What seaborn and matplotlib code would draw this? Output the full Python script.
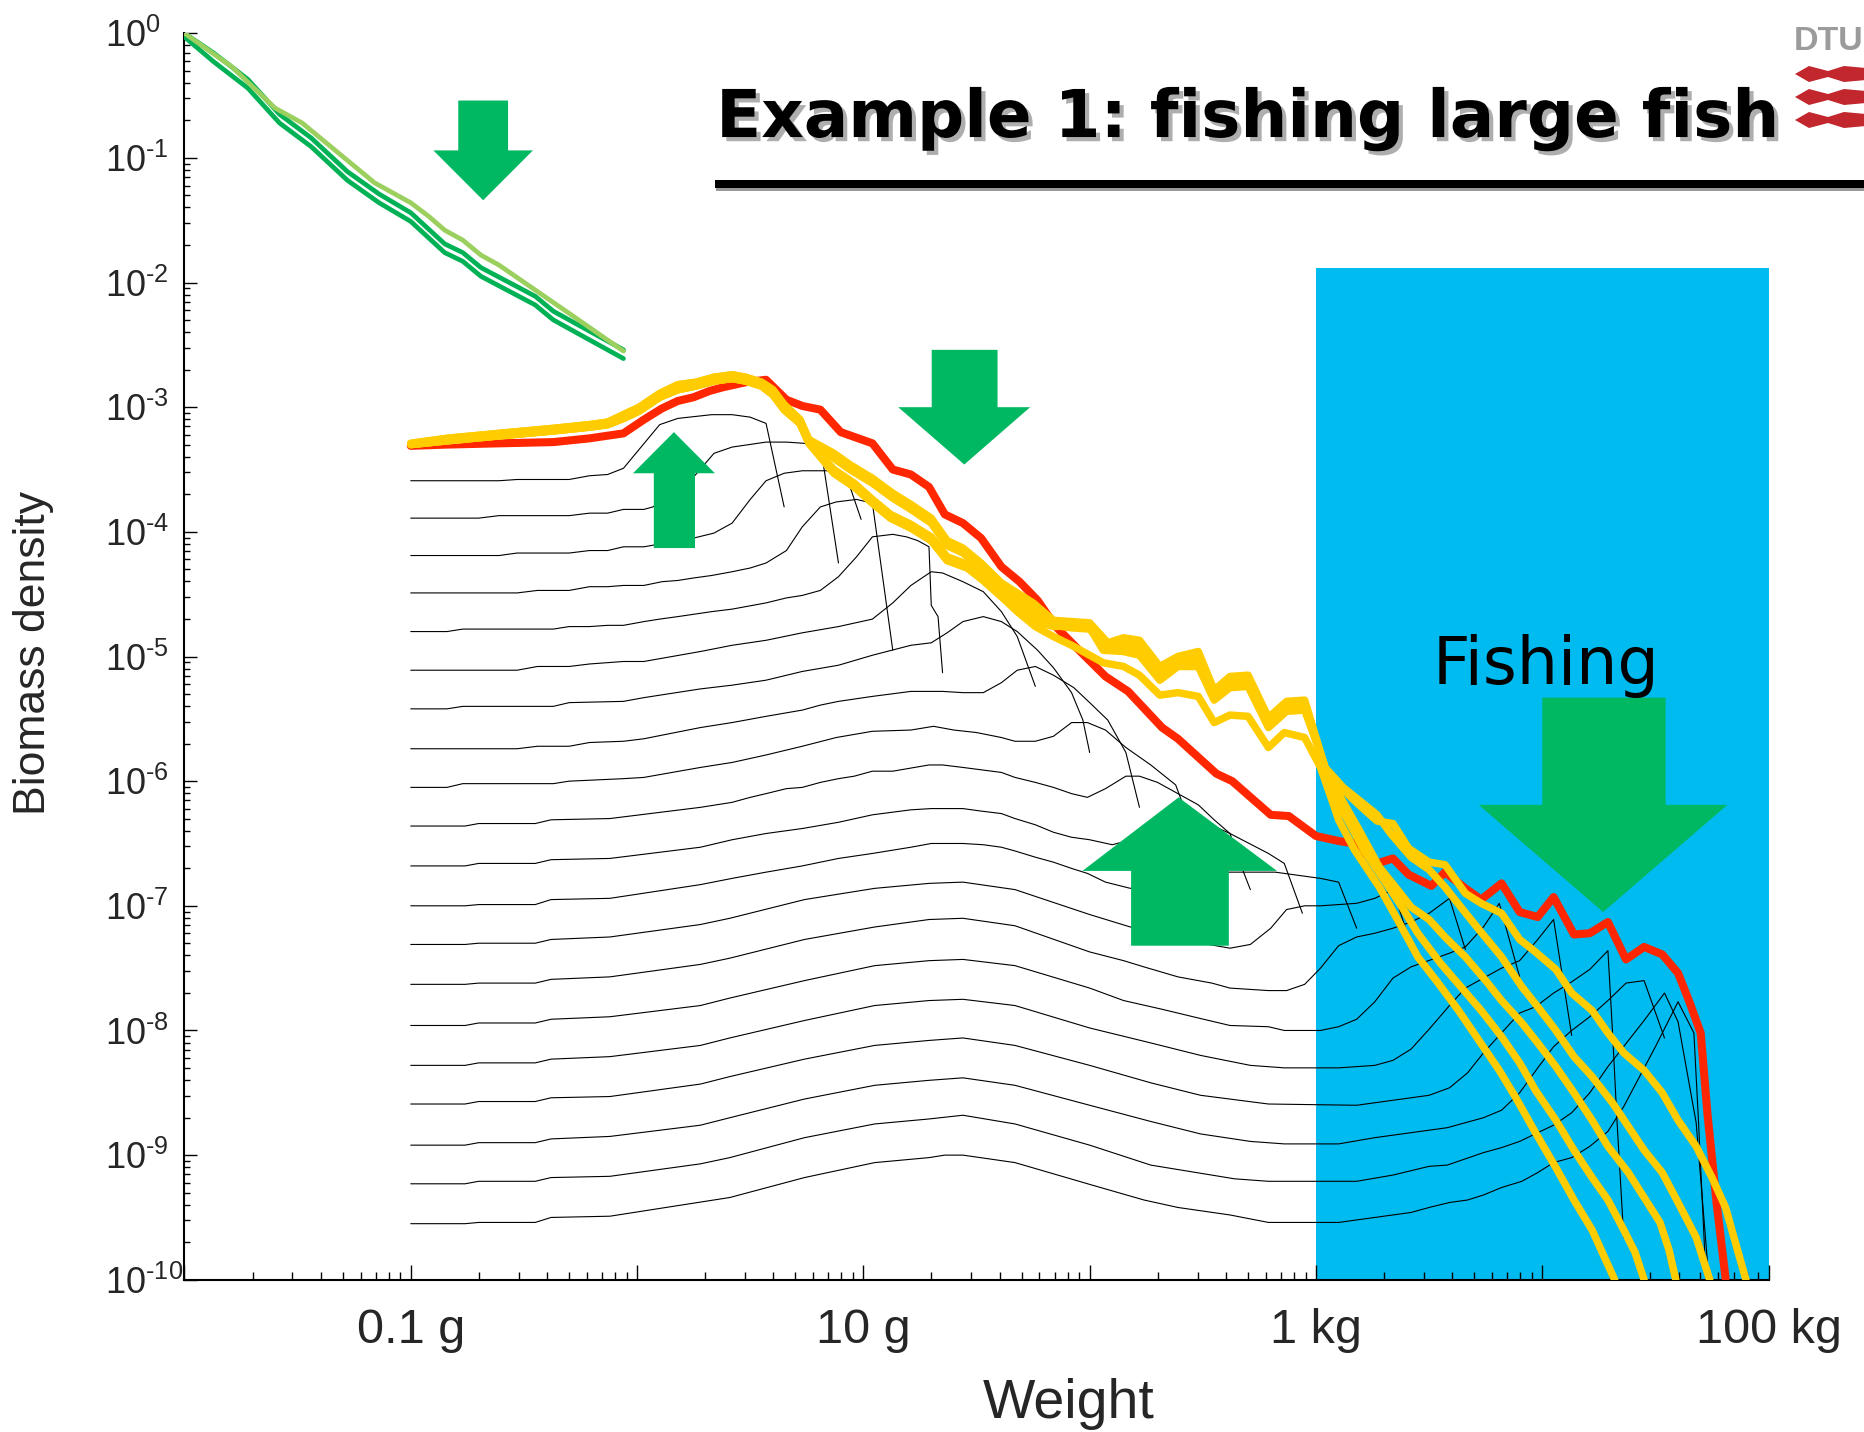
import numpy as np
import matplotlib
matplotlib.use("Agg")
import matplotlib.pyplot as plt
import seaborn as sns
from matplotlib.patches import Polygon, Rectangle
from matplotlib import patheffects as pe
from matplotlib.ticker import LogLocator, FuncFormatter, NullFormatter

# ---------------------------------------------------------------------------
# Size spectra, stored as (log10 weight [g], log10 biomass density) pairs
# ---------------------------------------------------------------------------

# resource spectrum (three runs)
resource_light = [(-2.00, 0.00), (-1.79, -0.27), (-1.60, -0.60), (-1.48, -0.72), (-1.32, -0.96),
                  (-1.16, -1.20), (-1.00, -1.36), (-0.92, -1.47), (-0.85, -1.58), (-0.77, -1.66),
                  (-0.69, -1.78), (-0.61, -1.86), (-0.45, -2.06), (-0.29, -2.26), (-0.06, -2.55)]
resource_mid = [(-2.00, 0.00), (-1.87, -0.16), (-1.72, -0.37), (-1.58, -0.65), (-1.44, -0.84),
                (-1.28, -1.11), (-1.14, -1.29), (-1.00, -1.44), (-0.85, -1.69), (-0.77, -1.76),
                (-0.69, -1.88), (-0.45, -2.11), (-0.37, -2.23), (-0.06, -2.54)]
resource_low = [(-2.00, -0.03), (-1.87, -0.23), (-1.72, -0.44), (-1.58, -0.72), (-1.44, -0.91),
                (-1.28, -1.18), (-1.14, -1.36), (-1.00, -1.51), (-0.85, -1.76), (-0.77, -1.83),
                (-0.69, -1.95), (-0.45, -2.18), (-0.37, -2.30), (-0.06, -2.61)]

# community spectrum without fishing
unfished_w = [-1.00, -0.84, -0.61, -0.37, -0.21, -0.06, 0.03, 0.11, 0.18, 0.25, 0.32, 0.38, 0.48,
              0.57, 0.66, 0.73, 0.81, 0.90, 1.04, 1.13, 1.21, 1.29, 1.36, 1.44, 1.52, 1.61, 1.69,
              1.77, 1.85, 1.97, 2.07, 2.17, 2.32, 2.39, 2.56, 2.63, 2.80, 2.88, 3.00, 3.10, 3.17,
              3.27, 3.34, 3.41, 3.51, 3.57, 3.66, 3.73, 3.82, 3.90, 3.98, 4.05, 4.14, 4.21, 4.29,
              4.37, 4.45, 4.53, 4.60, 4.65, 4.70, 4.73, 4.77, 4.81]
unfished_b = [-3.31, -3.30, -3.29, -3.28, -3.25, -3.21, -3.10, -3.01, -2.95, -2.92, -2.87, -2.84,
              -2.80, -2.78, -2.94, -2.99, -3.02, -3.20, -3.29, -3.50, -3.54, -3.64, -3.86, -3.93,
              -4.05, -4.28, -4.40, -4.55, -4.76, -4.98, -5.16, -5.28, -5.57, -5.66, -5.94, -6.00,
              -6.27, -6.28, -6.44, -6.48, -6.50, -6.66, -6.62, -6.75, -6.84, -6.73, -6.86, -6.95,
              -6.82, -7.05, -7.09, -6.93, -7.23, -7.22, -7.13, -7.43, -7.33, -7.39, -7.54, -7.77,
              -8.02, -8.67, -9.38, -9.99]

# community spectra with fishing: small-size part, middle part, large-size tail
fished_head = [(-1.00, -3.29), (-0.84, -3.25), (-0.61, -3.21), (-0.37, -3.17), (-0.21, -3.14),
               (-0.13, -3.12), (-0.06, -3.06), (0.01, -3.00), (0.10, -2.89), (0.18, -2.82),
               (0.26, -2.80), (0.34, -2.76), (0.42, -2.74), (0.48, -2.76), (0.55, -2.80),
               (0.60, -2.86), (0.65, -2.98), (0.72, -3.10)]
fished_head_low = [(-1.00, -3.30), (-0.84, -3.27), (-0.61, -3.23), (-0.37, -3.19), (-0.21, -3.16),
                   (-0.13, -3.14), (-0.06, -3.09), (0.01, -3.03), (0.10, -2.92), (0.18, -2.86),
                   (0.26, -2.83), (0.34, -2.79), (0.42, -2.77), (0.48, -2.79), (0.55, -2.83),
                   (0.60, -2.90), (0.65, -3.02), (0.72, -3.13)]
fished_mid_1 = [(0.76, -3.26), (0.87, -3.37), (0.94, -3.46), (1.04, -3.57), (1.13, -3.69),
                (1.21, -3.78), (1.30, -3.89), (1.37, -4.07), (1.44, -4.13), (1.52, -4.25),
                (1.61, -4.41), (1.68, -4.49), (1.75, -4.57), (1.84, -4.71), (1.92, -4.72),
                (2.00, -4.73), (2.08, -4.89), (2.15, -4.85), (2.22, -4.87), (2.31, -5.08),
                (2.39, -5.00), (2.48, -4.96), (2.55, -5.27), (2.62, -5.16), (2.70, -5.15),
                (2.79, -5.49), (2.87, -5.36), (2.95, -5.35), (2.99, -5.59), (3.04, -5.89)]
fished_mid_2 = [(0.76, -3.28), (0.87, -3.41), (0.94, -3.50), (1.04, -3.61), (1.13, -3.73),
                (1.21, -3.82), (1.30, -3.93), (1.37, -4.11), (1.44, -4.17), (1.52, -4.29),
                (1.61, -4.45), (1.68, -4.53), (1.75, -4.61), (1.84, -4.75), (1.92, -4.77),
                (2.00, -4.78), (2.08, -4.94), (2.15, -4.90), (2.22, -4.92), (2.31, -5.13),
                (2.39, -5.05), (2.48, -5.01), (2.55, -5.32), (2.62, -5.21), (2.70, -5.20),
                (2.79, -5.53), (2.87, -5.41), (2.95, -5.40), (2.99, -5.61), (3.04, -5.89)]
fished_mid_3 = [(0.76, -3.29), (0.87, -3.53), (0.96, -3.64), (1.04, -3.77), (1.12, -3.89),
                (1.21, -3.97), (1.30, -4.07), (1.37, -4.23), (1.46, -4.29), (1.53, -4.39),
                (1.61, -4.52), (1.69, -4.63), (1.77, -4.72), (1.84, -4.76), (1.93, -4.75),
                (2.00, -4.77), (2.06, -4.95), (2.15, -4.96), (2.22, -4.99), (2.31, -5.19),
                (2.39, -5.08), (2.48, -5.08), (2.55, -5.35), (2.62, -5.25), (2.70, -5.24),
                (2.79, -5.57), (2.87, -5.44), (2.95, -5.43), (2.99, -5.63), (3.04, -5.89)]
fished_mid_4 = [(0.76, -3.29), (0.87, -3.50), (0.96, -3.61), (1.04, -3.74), (1.12, -3.86),
                (1.21, -3.94), (1.30, -4.04), (1.37, -4.20), (1.46, -4.26), (1.53, -4.36),
                (1.61, -4.49), (1.69, -4.60), (1.77, -4.69), (1.84, -4.74), (1.93, -4.73),
                (2.00, -4.75), (2.06, -4.91), (2.15, -4.92), (2.22, -4.95), (2.31, -5.15),
                (2.39, -5.05), (2.48, -5.05), (2.55, -5.31), (2.62, -5.21), (2.70, -5.20),
                (2.79, -5.53), (2.87, -5.40), (2.95, -5.39), (2.99, -5.61), (3.04, -5.89)]
fished_mid_5 = [(0.76, -3.29), (0.87, -3.53), (0.96, -3.64), (1.04, -3.77), (1.12, -3.89),
                (1.21, -3.97), (1.30, -4.07), (1.37, -4.23), (1.46, -4.29), (1.53, -4.39),
                (1.61, -4.52), (1.68, -4.64), (1.76, -4.76), (1.84, -4.84), (1.92, -4.91),
                (2.00, -4.99), (2.06, -5.05), (2.15, -5.08), (2.22, -5.15), (2.31, -5.31),
                (2.39, -5.29), (2.48, -5.32), (2.55, -5.53), (2.62, -5.47), (2.70, -5.48),
                (2.79, -5.73), (2.86, -5.61), (2.95, -5.65), (3.02, -5.89)]
fished_tail_1 = [(3.07, -5.98), (3.19, -6.19), (3.27, -6.32), (3.34, -6.34), (3.41, -6.54),
                 (3.50, -6.65), (3.57, -6.67), (3.66, -6.90), (3.73, -6.98), (3.82, -7.06),
                 (3.90, -7.27), (3.97, -7.37), (4.06, -7.51), (4.13, -7.70), (4.22, -7.84),
                 (4.29, -8.02), (4.36, -8.18), (4.45, -8.32), (4.53, -8.50), (4.60, -8.72),
                 (4.68, -8.93), (4.75, -9.18), (4.81, -9.42), (4.85, -9.68), (4.90, -10.00)]
fished_tail_2 = [(3.12, -6.05), (3.27, -6.27), (3.33, -6.42), (3.42, -6.61), (3.50, -6.71),
                 (3.57, -6.85), (3.64, -7.01), (3.72, -7.19), (3.82, -7.41), (3.91, -7.65),
                 (3.98, -7.81), (4.06, -8.00), (4.14, -8.21), (4.22, -8.37), (4.31, -8.58),
                 (4.38, -8.77), (4.45, -8.96), (4.53, -9.14), (4.60, -9.38), (4.68, -9.66),
                 (4.74, -10.00)]
fished_tail_3 = [(3.09, -6.07), (3.19, -6.39), (3.28, -6.69), (3.36, -6.87), (3.42, -7.01),
                 (3.50, -7.11), (3.57, -7.25), (3.66, -7.41), (3.75, -7.60), (3.82, -7.76),
                 (3.91, -7.94), (3.98, -8.10), (4.06, -8.29), (4.14, -8.50), (4.22, -8.72),
                 (4.29, -8.93), (4.38, -9.14), (4.45, -9.34), (4.52, -9.54), (4.56, -9.76),
                 (4.59, -10.00)]
fished_tail_4 = [(3.07, -6.11), (3.14, -6.31), (3.21, -6.55), (3.30, -6.79), (3.38, -7.01),
                 (3.45, -7.22), (3.55, -7.46), (3.64, -7.65), (3.73, -7.84), (3.82, -8.05),
                 (3.90, -8.26), (3.97, -8.48), (4.06, -8.72), (4.14, -8.96), (4.22, -9.18),
                 (4.29, -9.36), (4.36, -9.60), (4.41, -9.78), (4.45, -10.00)]
fished_tail_5 = [(3.07, -6.15), (3.10, -6.31), (3.17, -6.55), (3.28, -6.85), (3.36, -7.11),
                 (3.45, -7.41), (3.54, -7.62), (3.63, -7.84), (3.72, -8.08), (3.81, -8.32),
                 (3.88, -8.53), (3.97, -8.82), (4.06, -9.10), (4.14, -9.36), (4.22, -9.60),
                 (4.28, -9.84), (4.32, -10.00)]

# individual species spectra (small to large asymptotic size)
sp01 = [(-1.00, -3.59), (-0.61, -3.59), (-0.53, -3.58), (-0.30, -3.58), (-0.21, -3.55), (-0.13, -3.54),
        (-0.06, -3.49), (0.10, -3.14), (0.18, -3.09), (0.33, -3.06), (0.42, -3.06), (0.50, -3.08),
        (0.57, -3.13), (0.65, -3.80)]
sp02 = [(-1.00, -3.89), (-0.70, -3.89), (-0.61, -3.87), (-0.30, -3.87), (-0.21, -3.85), (-0.13, -3.85),
        (-0.06, -3.82), (0.03, -3.82), (0.07, -3.80), (0.25, -3.56), (0.34, -3.37), (0.42, -3.32),
        (0.57, -3.28), (0.66, -3.28), (0.74, -3.29), (0.79, -3.33), (0.82, -3.42), (0.89, -4.25)]
sp03 = [(-1.00, -4.19), (-0.61, -4.19), (-0.53, -4.17), (-0.30, -4.17), (-0.21, -4.15), (-0.13, -4.15),
        (-0.06, -4.12), (0.03, -4.12), (0.25, -4.05), (0.34, -4.01), (0.42, -3.93), (0.50, -3.74),
        (0.57, -3.59), (0.65, -3.53), (0.73, -3.51), (0.84, -3.51), (0.93, -3.58), (0.99, -3.90)]
sp04 = [(-1.00, -4.49), (-0.53, -4.49), (-0.44, -4.47), (-0.30, -4.47), (-0.21, -4.44), (-0.13, -4.44),
        (-0.06, -4.43), (0.03, -4.43), (0.11, -4.40), (0.18, -4.39), (0.25, -4.37), (0.33, -4.35),
        (0.42, -4.32), (0.50, -4.29), (0.57, -4.25), (0.66, -4.15), (0.73, -3.96), (0.81, -3.80),
        (0.88, -3.76), (0.97, -3.74), (1.04, -3.77), (1.13, -4.95)]
sp05 = [(-1.00, -4.80), (-0.84, -4.80), (-0.77, -4.78), (-0.37, -4.78), (-0.30, -4.76), (-0.21, -4.76),
        (-0.13, -4.75), (-0.06, -4.75), (0.03, -4.72), (0.10, -4.70), (0.18, -4.68), (0.33, -4.64),
        (0.42, -4.62), (0.57, -4.57), (0.66, -4.53), (0.73, -4.51), (0.81, -4.47), (0.89, -4.36),
        (0.97, -4.20), (1.04, -4.04), (1.13, -4.02), (1.19, -4.04), (1.24, -4.07), (1.29, -4.12),
        (1.30, -4.59), (1.33, -4.68), (1.35, -5.13)]
sp06 = [(-1.00, -5.11), (-0.53, -5.11), (-0.44, -5.08), (-0.30, -5.08), (-0.21, -5.06), (-0.06, -5.04),
        (0.03, -5.04), (0.28, -4.96), (0.42, -4.91), (0.57, -4.87), (0.73, -4.81), (0.89, -4.76),
        (1.04, -4.70), (1.13, -4.57), (1.21, -4.43), (1.30, -4.32), (1.35, -4.33), (1.44, -4.40),
        (1.53, -4.48), (1.61, -4.64), (1.68, -4.84), (1.76, -5.24)]
sp07 = [(-1.00, -5.42), (-0.84, -5.42), (-0.77, -5.40), (-0.37, -5.40), (-0.30, -5.37), (-0.06, -5.36),
        (0.03, -5.33), (0.28, -5.26), (0.42, -5.23), (0.57, -5.19), (0.73, -5.12), (0.89, -5.07),
        (1.04, -4.99), (1.21, -4.91), (1.30, -4.89), (1.37, -4.81), (1.44, -4.72), (1.53, -4.68),
        (1.61, -4.72), (1.68, -4.80), (1.77, -4.95), (1.84, -5.09), (1.92, -5.29), (1.97, -5.51),
        (2.00, -5.77)]
sp08 = [(-1.00, -5.74), (-0.53, -5.74), (-0.44, -5.72), (-0.30, -5.72), (-0.21, -5.69), (-0.06, -5.68),
        (0.03, -5.66), (0.28, -5.57), (0.42, -5.53), (0.57, -5.48), (0.73, -5.43), (0.81, -5.39),
        (0.89, -5.36), (1.04, -5.32), (1.21, -5.28), (1.35, -5.28), (1.44, -5.29), (1.53, -5.29),
        (1.61, -5.21), (1.68, -5.11), (1.76, -5.08), (1.84, -5.15), (1.93, -5.25), (2.00, -5.37),
        (2.08, -5.51), (2.16, -5.77), (2.22, -6.21)]
sp09 = [(-1.00, -6.05), (-0.84, -6.05), (-0.77, -6.02), (-0.37, -6.02), (-0.30, -6.00), (-0.06, -5.98),
        (0.03, -5.97), (0.28, -5.89), (0.42, -5.85), (0.57, -5.79), (0.73, -5.72), (0.88, -5.65),
        (1.04, -5.60), (1.21, -5.59), (1.31, -5.56), (1.40, -5.59), (1.50, -5.61), (1.61, -5.65),
        (1.67, -5.68), (1.76, -5.68), (1.84, -5.64), (1.92, -5.53), (1.99, -5.53), (2.07, -5.59),
        (2.16, -5.73), (2.27, -5.87), (2.38, -6.03), (2.47, -6.47)]
sp10 = [(-1.00, -6.36), (-0.76, -6.36), (-0.70, -6.34), (-0.45, -6.34), (-0.38, -6.31), (-0.12, -6.30),
        (0.28, -6.21), (0.42, -6.17), (0.50, -6.13), (0.57, -6.10), (0.66, -6.06), (0.73, -6.05),
        (0.81, -6.01), (0.89, -5.98), (0.96, -5.96), (1.04, -5.92), (1.13, -5.92), (1.29, -5.87),
        (1.35, -5.87), (1.44, -5.89), (1.61, -5.93), (1.67, -5.97), (1.76, -6.01), (1.84, -6.05),
        (1.92, -6.10), (1.99, -6.13), (2.07, -6.06), (2.16, -5.96), (2.22, -5.96), (2.30, -6.01),
        (2.39, -6.10), (2.48, -6.19), (2.55, -6.31), (2.62, -6.42), (2.68, -6.73), (2.71, -6.87)]
sp11 = [(-1.00, -6.68), (-0.76, -6.68), (-0.70, -6.66), (-0.45, -6.66), (-0.38, -6.63), (-0.12, -6.62),
        (0.28, -6.53), (0.42, -6.47), (0.57, -6.42), (0.73, -6.38), (0.89, -6.33), (1.04, -6.27),
        (1.21, -6.23), (1.30, -6.22), (1.44, -6.22), (1.52, -6.24), (1.61, -6.26), (1.67, -6.30),
        (1.76, -6.35), (1.84, -6.41), (1.92, -6.45), (2.00, -6.47), (2.10, -6.51), (2.27, -6.43),
        (2.40, -6.34), (2.51, -6.33), (2.62, -6.42), (2.79, -6.58), (2.86, -6.66), (2.94, -7.06)]
sp12 = [(-1.00, -7.00), (-0.76, -7.00), (-0.70, -6.99), (-0.45, -6.99), (-0.38, -6.95), (-0.12, -6.94),
        (0.28, -6.83), (0.42, -6.78), (0.57, -6.73), (0.73, -6.68), (0.89, -6.62), (1.04, -6.58),
        (1.21, -6.53), (1.30, -6.50), (1.44, -6.50), (1.53, -6.51), (1.61, -6.53), (1.67, -6.56),
        (1.76, -6.61), (1.84, -6.65), (1.92, -6.70), (1.99, -6.74), (2.07, -6.81), (2.18, -6.86),
        (2.32, -6.82), (2.49, -6.75), (2.62, -6.73), (2.82, -6.73), (3.02, -6.78), (3.10, -6.81),
        (3.18, -7.18)]
sp13 = [(-1.00, -7.31), (-0.76, -7.31), (-0.70, -7.30), (-0.45, -7.30), (-0.38, -7.27), (-0.12, -7.25),
        (0.28, -7.15), (0.41, -7.10), (0.74, -6.95), (1.05, -6.86), (1.29, -6.82), (1.44, -6.81),
        (1.67, -6.87), (2.00, -7.07), (2.18, -7.17), (2.40, -7.27), (2.62, -7.34), (2.71, -7.31),
        (2.80, -7.18), (2.87, -7.03), (2.95, -7.00), (3.02, -7.00), (3.18, -6.98), (3.26, -6.94),
        (3.34, -6.87), (3.41, -7.26)]
sp14 = [(-1.00, -7.63), (-0.76, -7.63), (-0.70, -7.62), (-0.45, -7.62), (-0.38, -7.59), (-0.12, -7.57),
        (0.28, -7.47), (0.41, -7.42), (0.74, -7.27), (1.05, -7.17), (1.29, -7.11), (1.44, -7.10),
        (1.67, -7.16), (2.00, -7.37), (2.15, -7.44), (2.24, -7.49), (2.39, -7.57), (2.54, -7.62),
        (2.62, -7.66), (2.79, -7.68), (2.87, -7.68), (2.95, -7.63), (3.02, -7.50), (3.10, -7.32),
        (3.18, -7.25), (3.26, -7.22), (3.34, -7.18), (3.42, -7.13), (3.50, -7.06), (3.59, -6.94),
        (3.66, -7.35)]
sp15 = [(-1.00, -7.96), (-0.76, -7.96), (-0.70, -7.94), (-0.45, -7.94), (-0.38, -7.91), (-0.12, -7.89),
        (0.28, -7.80), (0.41, -7.74), (0.74, -7.60), (1.05, -7.48), (1.29, -7.44), (1.44, -7.43),
        (1.67, -7.48), (2.00, -7.66), (2.15, -7.76), (2.32, -7.83), (2.48, -7.90), (2.62, -7.96),
        (2.79, -7.97), (2.86, -8.00), (3.02, -8.00), (3.10, -7.97), (3.18, -7.91), (3.26, -7.77),
        (3.34, -7.58), (3.42, -7.49), (3.59, -7.38), (3.66, -7.33), (3.74, -7.17), (3.81, -6.98),
        (3.90, -7.57)]
sp16 = [(-1.00, -8.28), (-0.76, -8.28), (-0.70, -8.26), (-0.45, -8.26), (-0.38, -8.23), (-0.12, -8.21),
        (0.28, -8.12), (0.41, -8.06), (0.74, -7.92), (1.05, -7.80), (1.29, -7.76), (1.44, -7.75),
        (1.67, -7.80), (2.00, -7.98), (2.27, -8.10), (2.49, -8.20), (2.71, -8.28), (2.86, -8.30),
        (3.10, -8.30), (3.26, -8.28), (3.34, -8.24), (3.42, -8.15), (3.50, -7.99), (3.59, -7.80),
        (3.66, -7.66), (3.74, -7.58), (3.82, -7.50), (3.90, -7.44), (3.98, -7.27), (4.05, -7.11),
        (4.13, -8.04)]
sp17 = [(-1.00, -8.59), (-0.76, -8.59), (-0.70, -8.57), (-0.45, -8.57), (-0.38, -8.54), (-0.12, -8.53),
        (0.28, -8.43), (0.41, -8.37), (0.74, -8.23), (1.05, -8.12), (1.29, -8.08), (1.44, -8.06),
        (1.67, -8.12), (2.00, -8.28), (2.27, -8.42), (2.49, -8.52), (2.79, -8.59), (3.18, -8.60),
        (3.34, -8.56), (3.50, -8.52), (3.59, -8.46), (3.67, -8.34), (3.74, -8.18), (3.82, -8.02),
        (3.90, -7.86), (3.97, -7.81), (4.05, -7.70), (4.13, -7.61), (4.21, -7.51), (4.29, -7.36),
        (4.31, -8.00), (4.33, -8.72), (4.36, -9.66)]
sp18 = [(-1.00, -8.92), (-0.76, -8.92), (-0.70, -8.90), (-0.45, -8.90), (-0.38, -8.87), (-0.12, -8.85),
        (0.28, -8.76), (0.41, -8.70), (0.74, -8.55), (1.05, -8.44), (1.29, -8.40), (1.44, -8.38),
        (1.67, -8.44), (2.00, -8.60), (2.27, -8.73), (2.49, -8.83), (2.71, -8.89), (2.86, -8.91),
        (3.10, -8.91), (3.26, -8.86), (3.42, -8.82), (3.58, -8.78), (3.74, -8.70), (3.82, -8.64),
        (3.90, -8.50), (3.98, -8.30), (4.05, -8.13), (4.13, -8.00), (4.21, -7.89), (4.29, -7.76),
        (4.37, -7.62), (4.45, -7.60), (4.54, -8.06)]
sp19 = [(-1.00, -9.23), (-0.76, -9.23), (-0.70, -9.21), (-0.45, -9.21), (-0.38, -9.18), (-0.12, -9.17),
        (0.28, -9.07), (0.41, -9.02), (0.74, -8.86), (1.05, -8.75), (1.29, -8.71), (1.44, -8.68),
        (1.67, -8.75), (2.00, -8.92), (2.27, -9.08), (2.64, -9.19), (2.79, -9.21), (3.18, -9.21),
        (3.34, -9.16), (3.50, -9.09), (3.58, -9.08), (3.74, -8.98), (3.82, -8.94), (3.90, -8.89),
        (3.98, -8.82), (4.05, -8.76), (4.13, -8.66), (4.21, -8.50), (4.29, -8.29), (4.45, -7.92),
        (4.54, -7.70), (4.60, -7.93), (4.68, -8.74), (4.73, -9.86)]
sp20 = [(-1.00, -9.55), (-0.76, -9.55), (-0.70, -9.54), (-0.45, -9.54), (-0.38, -9.50), (-0.12, -9.49),
        (0.41, -9.34), (0.74, -9.18), (1.05, -9.06), (1.29, -9.02), (1.36, -9.00), (1.44, -9.00),
        (1.67, -9.06), (2.01, -9.24), (2.24, -9.36), (2.39, -9.42), (2.62, -9.48), (2.79, -9.54),
        (3.10, -9.54), (3.26, -9.50), (3.42, -9.46), (3.50, -9.42), (3.59, -9.38), (3.67, -9.36),
        (3.74, -9.32), (3.82, -9.26), (3.91, -9.21), (3.98, -9.14), (4.05, -9.06), (4.13, -9.02),
        (4.21, -8.93), (4.29, -8.81), (4.36, -8.61), (4.43, -8.37), (4.50, -8.13), (4.60, -7.77),
        (4.67, -8.02), (4.69, -8.72), (4.72, -9.86)]

# axis tick labels
x_tick_values = [0.1, 10, 1000, 100000]
x_tick_labels = ["0.1 g", "10 g", "1 kg", "100 kg"]

# fished size range (log10 weight) and top of the shaded band (log10 density)
fishing_range = (3.0, 5.0)
fishing_top = -1.88

# arrows: shaft left/right, head left/right, tip x, tail y, head-base y, tip y (log10 units)
arrow_specs = [
    (-0.79, -0.57, -0.90, -0.46, -0.68, -0.54, -0.94, -1.34),
    (0.074, 0.256, -0.018, 0.344, 0.163, -4.13, -3.53, -3.20),
    (1.302, 1.593, 1.154, 1.737, 1.446, -2.54, -3.00, -3.46),
    (2.183, 2.615, 1.968, 2.828, 2.393, -7.32, -6.72, -6.13),
    (4.000, 4.545, 3.719, 4.818, 4.269, -5.33, -6.19, -7.05),
]

# ---------------------------------------------------------------------------
RED = "#FF2600"
YELLOW = "#FFCC00"
GREEN = "#00B862"
LIGHT_GREEN = "#9BCF5E"
DARK_GREEN = "#00B255"
BLUE = "#00BBF0"

sns.set_style("ticks")
plt.rcParams["font.family"] = ["Liberation Sans", "DejaVu Sans"]
plt.rcParams["mathtext.fontset"] = "custom"
plt.rcParams["mathtext.rm"] = "Liberation Sans"
plt.rcParams["mathtext.it"] = "Liberation Sans:italic"
plt.rcParams["mathtext.bf"] = "Liberation Sans:bold"
plt.rcParams["mathtext.default"] = "regular"

fig = plt.figure(figsize=(18.65, 14.32), dpi=100)
fig.patch.set_facecolor("white")
ax = fig.add_axes([0.0989, 0.1063, 0.8494, 0.8705])
ax.set_facecolor("white")
ax.set_xscale("log")
ax.set_yscale("log")
ax.set_xlim(1e-2, 1e5)
ax.set_ylim(1e-10, 1)


def draw(points, color, width, z):
    arr = 10.0 ** np.asarray(points, dtype=float)
    sns.lineplot(x=arr[:, 0], y=arr[:, 1], sort=False, estimator=None, color=color,
                 linewidth=width, ax=ax, zorder=z, legend=False)


# fished size range
ax.add_patch(Rectangle((10 ** fishing_range[0], 1e-10),
                       10 ** fishing_range[1] - 10 ** fishing_range[0],
                       10 ** fishing_top - 1e-10,
                       facecolor=BLUE, edgecolor="none", zorder=0.5))

# species spectra
species = [sp01, sp02, sp03, sp04, sp05, sp06, sp07, sp08, sp09, sp10,
           sp11, sp12, sp13, sp14, sp15, sp16, sp17, sp18, sp19, sp20]
for sp in species:
    draw(sp, "black", 0.8, 1)

# arrows
for sl, sr, hl, hr, tx, ty0, tyb, tyt in arrow_specs:
    verts = np.array([(sl, ty0), (sr, ty0), (sr, tyb), (hr, tyb), (tx, tyt), (hl, tyb), (sl, tyb)])
    ax.add_patch(Polygon(10.0 ** verts, closed=True, facecolor=GREEN, edgecolor="none", zorder=2))

# resource spectra
draw(resource_low, DARK_GREEN, 3.4, 3)
draw(resource_mid, DARK_GREEN, 3.4, 3)
draw(resource_light, LIGHT_GREEN, 3.4, 3.1)

# unfished community
draw(list(zip(unfished_w, unfished_b)), RED, 5.8, 4)

# fished communities
fished = [fished_head + fished_mid_1 + fished_tail_1,
          fished_head + fished_mid_2 + fished_tail_2,
          fished_head_low + fished_mid_3 + fished_tail_3,
          fished_head_low + fished_mid_4 + fished_tail_4,
          fished_head_low + fished_mid_5 + fished_tail_5]
for f in fished:
    draw(f, YELLOW, 5.4, 5)

ax.text(0.788, 0.478, "Fishing", transform=ax.transAxes, fontsize=47,
        family="DejaVu Sans", ha="left", va="baseline", color="black", zorder=6)

# axes styling
sns.despine(ax=ax)
for s in ("left", "bottom"):
    ax.spines[s].set_linewidth(1.5)
    ax.spines[s].set_color("black")

ax.xaxis.set_major_locator(LogLocator(base=10, numticks=20))
ax.xaxis.set_minor_locator(LogLocator(base=10, subs=np.arange(2, 10), numticks=20))
label_map = dict(zip(x_tick_values, x_tick_labels))


def xfmt(v, pos):
    for k, t in label_map.items():
        if abs(np.log10(v) - np.log10(k)) < 1e-6:
            return t
    return ""


def yfmt(v, pos):
    e = int(round(np.log10(v)))
    exp = ("\u2010" + str(-e)) if e < 0 else str(e)
    return "$\\mathregular{10^{" + exp + "}}$"


ax.xaxis.set_major_formatter(FuncFormatter(xfmt))
ax.xaxis.set_minor_formatter(NullFormatter())
ax.yaxis.set_major_locator(LogLocator(base=10, numticks=20))
ax.yaxis.set_minor_locator(LogLocator(base=10, subs=np.arange(2, 10), numticks=20))
ax.yaxis.set_major_formatter(FuncFormatter(yfmt))
ax.yaxis.set_minor_formatter(NullFormatter())

ax.tick_params(axis="both", which="both", direction="in", top=False, right=False, color="black")
ax.tick_params(axis="x", which="major", length=11, width=1, labelsize=35, pad=20)
ax.tick_params(axis="x", which="minor", length=5.5, width=1)
ax.tick_params(axis="y", which="major", length=9.6, width=1, labelsize=26, pad=57)
ax.tick_params(axis="y", which="minor", length=4.2, width=1)
for t in ax.get_yticklabels():
    t.set_horizontalalignment("left")

ax.set_xlabel("Weight", fontsize=40, va="center")
ax.xaxis.set_label_coords(0.558, -0.100)
ax.set_ylabel("Biomass density", fontsize=32, va="center")
ax.yaxis.set_label_coords(-0.0956, 0.503)

# title with drop shadow and rule
fig.text(0.384, 0.9043, "Example 1: fishing large fish", fontsize=47.5, fontweight="bold",
         family="DejaVu Sans", ha="left", va="baseline", color="black",
         path_effects=[pe.SimplePatchShadow(offset=(3, -3), shadow_rgbFace="0.55", alpha=0.7),
                       pe.Normal()])
fig.patches.append(Rectangle((0.3839, 0.8667), 1 - 0.3839, 0.0040, transform=fig.transFigure,
                             facecolor="0.6", edgecolor="none"))
fig.patches.append(Rectangle((0.3834, 0.8687), 1 - 0.3834, 0.0056, transform=fig.transFigure,
                             facecolor="black", edgecolor="none"))

# logo
fig.text(1794 / 1865, 1 - 50 / 1432, "DTU", fontsize=24.5, fontweight="bold", color="#9B9B9B",
         family=["Liberation Sans Narrow", "Liberation Sans"], ha="left", va="baseline")
W, H = 1865.0, 1432.0
for yc in (74.0, 97.0, 120.0):
    pts = [(1795, yc), (1809, yc - 8), (1828, yc - 3), (1844, yc - 8), (1866, yc - 6),
           (1866, yc + 6), (1844, yc + 8), (1828, yc + 3), (1809, yc + 8)]
    fig.patches.append(Polygon([(x / W, 1 - y / H) for x, y in pts], closed=True,
                               transform=fig.transFigure, facecolor="#C1272D", edgecolor="none"))

fig.savefig("out.png", dpi=100, facecolor="white")
